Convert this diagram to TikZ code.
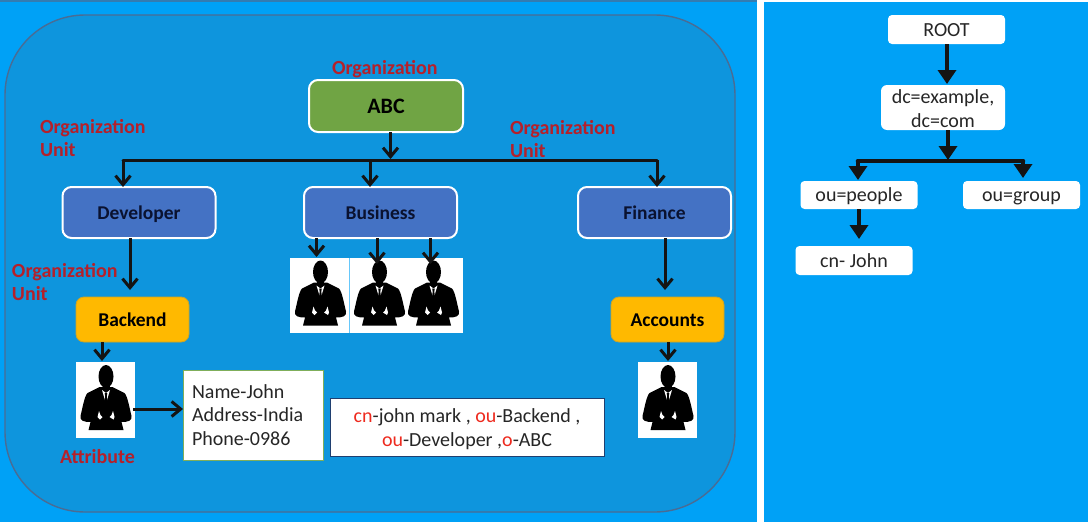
\documentclass[tikz,border=0pt]{standalone}
\usepackage{fontspec}
\setmainfont{Carlito}
\usetikzlibrary{arrows.meta,calc}
\definecolor{skyb}{HTML}{00A1F6}
\definecolor{panel}{HTML}{0E95DD}
\definecolor{panelb}{HTML}{4A6C94}
\definecolor{abcg}{HTML}{70A444}
\definecolor{unitb}{HTML}{4472C4}
\definecolor{amber}{HTML}{FFB900}
\definecolor{amberb}{HTML}{C9A52A}
\definecolor{lab}{HTML}{B5202A}
\definecolor{redt}{HTML}{EE2A1E}
\definecolor{greenb}{HTML}{7FAE5A}
\definecolor{navyb}{HTML}{1F3F70}
\definecolor{darkt}{HTML}{0A1230}
\newcommand{\fs}[1]{\fontsize{#1}{#1}\selectfont}
\newcommand{\suitman}[1]{%
  \begin{scope}[shift={(#1)}]
    \fill[black] (0.5,-23.5) ellipse (7.5 and 11.5);
    \fill[black] (-3,-16) rectangle (4,-10);
    \fill[black] (-6,-13) -- (7,-13) -- (19,-7) .. controls (22,-4) and (24,8) .. (26,16)
      .. controls (27,21) and (22,22) .. (16,22) -- (18,30) -- (-17,30) -- (-15,22)
      .. controls (-21,22) and (-26,21) .. (-25,16) .. controls (-23,8) and (-21,-4) .. (-18,-7) -- cycle;
    \fill[white] (-3.5,-10) -- (0.5,-7) -- (4.5,-10) -- (3,-5) -- (1.5,0) -- (-0.5,0) -- (-2,-5) -- cycle;
    \fill[black] (-0.8,-7) -- (1.8,-7) -- (1.3,-4) -- (2.2,4) -- (0.5,7) -- (-1.2,4) -- (-0.3,-4) -- cycle;
    \fill[white] (-8,17) -- (-6.5,11) -- (-5,15) -- (-3,17) -- (-5.5,19.5) -- cycle;
    \fill[white] (9,17) -- (7.5,11) -- (6,15) -- (4,17) -- (8,19.5) -- cycle;
  \end{scope}}
\tikzset{
  conn/.style={line width=3pt,draw=black!92,-{Straight Barb[length=9pt,width=15pt,line width=3pt]}},
  trunk/.style={line width=3pt,draw=black!92},
  rconn/.style={line width=4.6pt,draw=black!92,-{Triangle[length=14pt,width=18pt]}},
  rtrunk/.style={line width=4.6pt,draw=black!92},
  box/.style={rectangle,inner sep=0pt,outer sep=0pt,align=center},
  unit/.style={box,rounded corners=9pt,fill=unitb,draw=white,line width=2pt,
    minimum width=153pt,minimum height=51pt,text=darkt,font=\fs{19.5}\bfseries,
    text height=15pt,text depth=2pt},
  top/.style={box,rounded corners=9pt,fill=abcg,draw=white,line width=2pt,
    minimum width=154pt,minimum height=52pt,text=black,font=\fs{22}\bfseries},
  team/.style={box,rounded corners=8pt,fill=amber,draw=amberb,line width=0.8pt,
    minimum width=113pt,minimum height=45pt,text=black,font=\fs{19.5}\bfseries,
    text height=15pt,text depth=2pt},
  photo/.style={box,fill=white,minimum width=59pt,minimum height=76pt},
  lbl/.style={box,text=lab,font=\fs{20}\bfseries,align=left,anchor=north west},
  rbox/.style={box,rounded corners=4pt,fill=white,minimum width=117pt,minimum height=29pt,
    text=black!85,font=\fs{20}},
  rone/.style={rbox,text height=15pt,text depth=2pt},
}
\begin{document}
\begin{tikzpicture}[x=1pt,y=-1pt]
\useasboundingbox (0,0) rectangle (1088,522);
\fill[white] (0,0) rectangle (1088,522);
\fill[skyb] (0,0) rectangle (757,522);
\fill[panelb!70!skyb] (0,0) rectangle (757,1.5);
\fill[skyb] (764,2) rectangle (1088,522);
\draw[fill=panel,draw=panelb,line width=1.4pt,rounded corners=80pt] (5,15) rectangle (735,512);

% Left tree
\node[top] (abc) at (386,106) {ABC};
\node[unit] (dev) at (139,212.5) {Developer};
\node[unit] (bus) at (380.5,212.5) {Business};
\node[unit] (fin) at (654.5,212.5) {Finance};
\node[team] (back) at (132.5,319.5) {Backend};
\node[team] (acc) at (667.5,319.5) {Accounts};
\node[photo] (p0) at (105.5,400) {};
\node[photo] (pa) at (667.5,400) {};
\node[photo,minimum height=75pt] (p1) at (319.5,295.5) {};
\node[photo,minimum height=75pt] (p2) at (378.5,295.5) {};
\node[photo,minimum height=75pt] (p3) at (433.5,295.5) {};
\draw[skyb!60!white,line width=0.7pt] (p1.north east) -- (p1.south east);
\suitman{105.5,400}
\suitman{667.5,400}
\suitman{320,295.5}
\suitman{379,295.5}
\suitman{433,295.5}
\node[box,fill=white,draw=greenb,line width=1pt,minimum width=140pt,minimum height=90pt,
  text=black!85,font=\fs{20},align=left,text width=122pt] (attr) at (253,415)
  {Name-John\\[3.5pt]Address-India\\[3.5pt]Phone-0986};
\node[box,fill=white,draw=navyb,line width=1pt,minimum width=274pt,minimum height=58pt,
  text=black!85,font=\fs{20}] (dn) at (467,427)
  {\rule{0pt}{18pt}\textcolor{redt}{cn}-john mark , \textcolor{redt}{ou}-Backend ,\\[3.5pt]
   \textcolor{redt}{ou}-Developer ,\textcolor{redt}{o}-ABC};

\node[lbl] (l0) at (332,60) {Organization};
\node[lbl] (l1) at (40,119) {Organization\\[3.5pt]Unit};
\node[lbl] (l2) at (510,120) {Organization\\[3.5pt]Unit};
\node[lbl] (l3) at (12,263) {Organization\\[3.5pt]Unit};
\node[lbl] (l4) at (60,449) {Attribute};

\coordinate (ja) at (390.5,160);
\coordinate (jd) at (123,160);
\coordinate (jb) at (370,160);
\coordinate (jf) at (657,160);
\draw[conn] (abc.south -| ja) -- ($(ja)+(0,-1)$);
\draw[trunk,line cap=round] (jd) -- (jf);
\draw[conn] (jd) -- (jd |- dev.north);
\draw[conn] (jb) -- (jb |- bus.north);
\draw[conn] (jf) -- (jf |- fin.north);
\coordinate (xd) at (130,290);
\draw[conn] (dev.south -| xd) -- (xd);
\coordinate (xb) at (102,361);
\draw[conn] (back.south -| xb) -- (xb);
\coordinate (xa) at (668,361);
\draw[conn] (acc.south -| xa) -- (xa);
\coordinate (xf) at (665,290);
\draw[conn] (fin.south -| xf) -- (xf);
\coordinate (y1) at (316.5,257);
\coordinate (y2) at (377,264);
\coordinate (y3) at (430.5,264);
\draw[conn] (bus.south -| y1) -- (y1);
\draw[conn] (bus.south -| y2) -- (y2);
\draw[conn] (bus.south -| y3) -- (y3);
\coordinate (yp) at (133,409);
\draw[conn] (yp) -- (attr.west |- yp);

% Right tree
\node[rone] (root) at (946.5,29.5) {ROOT};
\node[rbox,minimum width=124pt,minimum height=45pt,rounded corners=6pt] (dc) at (943,107.5) {\rule{0pt}{16pt}dc=example,\\[4.5pt]dc=com};
\node[rone,minimum height=28pt] (people) at (859,195) {ou=people};
\node[rone,minimum height=28pt] (group) at (1021.5,195) {ou=group};
\node[rone] (cn) at (854,260.5) {cn- John};
\coordinate (r1) at (947,84);
\draw[rconn] (root.south -| r1) -- (r1);
\coordinate (r2) at (948,160);
\draw[rconn] (dc.south -| r2) -- (r2);
\coordinate (r3) at (858,161);
\coordinate (r4) at (1023,161);
\draw[rtrunk,line cap=round] (r3) -- (r4);
\draw[rconn] (r3) -- ($(people.north -| r3)+(0,-1)$);
\draw[rconn] (r4) -- ($(group.north -| r4)+(0,-3)$);
\coordinate (r5) at (859,239);
\draw[rconn] (people.south -| r5) -- (r5);
\end{tikzpicture}
\end{document}
